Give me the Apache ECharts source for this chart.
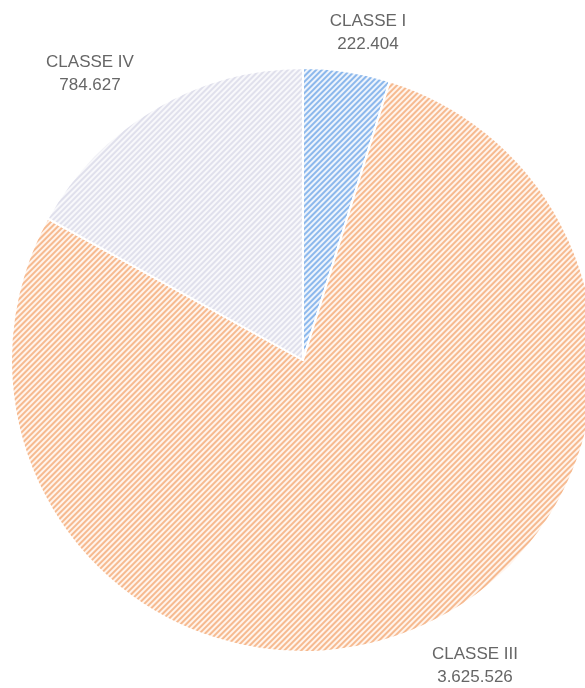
<!DOCTYPE html>
<html>
<head>
<meta charset="utf-8">
<script src="https://cdn.jsdelivr.net/npm/echarts@6/dist/echarts.min.js"></script>
<style>
html,body{margin:0;padding:0;background:#fff;}
#main{width:585px;height:688px;}
</style>
</head>
<body>
<div id="main"></div>
<script>
// ---- data ----
const categories = ['CLASSE I', 'CLASSE III', 'CLASSE IV'];
const values = [222404, 3625526, 784627];
const valueLabels = ['222.404', '3.625.526', '784.627'];

// ---- styles ----
const baseColors = ['#eef4fc', '#fff4ec', '#f8f8fb'];
const stripeColors = ['#8cb8ec', '#f6ba90', '#e0e0ec'];
// label block centres (style only)
const labelPos = [[368, 33], [475, 666], [90, 74]];

const chart = echarts.init(document.getElementById('main'));
chart.setOption({
  animation: false,
  backgroundColor: '#fff',
  series: [{
    type: 'pie',
    center: [303, 360],
    radius: 292,
    startAngle: 90,
    clockwise: true,
    avoidLabelOverlap: false,
    itemStyle: { borderColor: '#fff', borderWidth: 2 },
    label: {
      show: true,
      position: 'outside',
      formatter: p => p.name + '\n' + valueLabels[p.dataIndex],
      fontFamily: 'Liberation Sans, Arial, sans-serif',
      fontSize: 17,
      lineHeight: 23,
      color: '#666',
      align: 'center'
    },
    labelLine: { show: false },
    labelLayout: p => ({
      x: labelPos[p.dataIndex][0],
      y: labelPos[p.dataIndex][1],
      align: 'center',
      verticalAlign: 'middle'
    }),
    data: categories.map((c, i) => ({
      name: c,
      value: values[i],
      itemStyle: {
        color: baseColors[i],
        decal: {
          symbol: 'rect',
          symbolSize: 1,
          dashArrayX: [1, 0],
          dashArrayY: [2, 2],
          rotation: -Math.PI / 4,
          color: stripeColors[i]
        }
      }
    }))
  }]
});
</script>
</body>
</html>
